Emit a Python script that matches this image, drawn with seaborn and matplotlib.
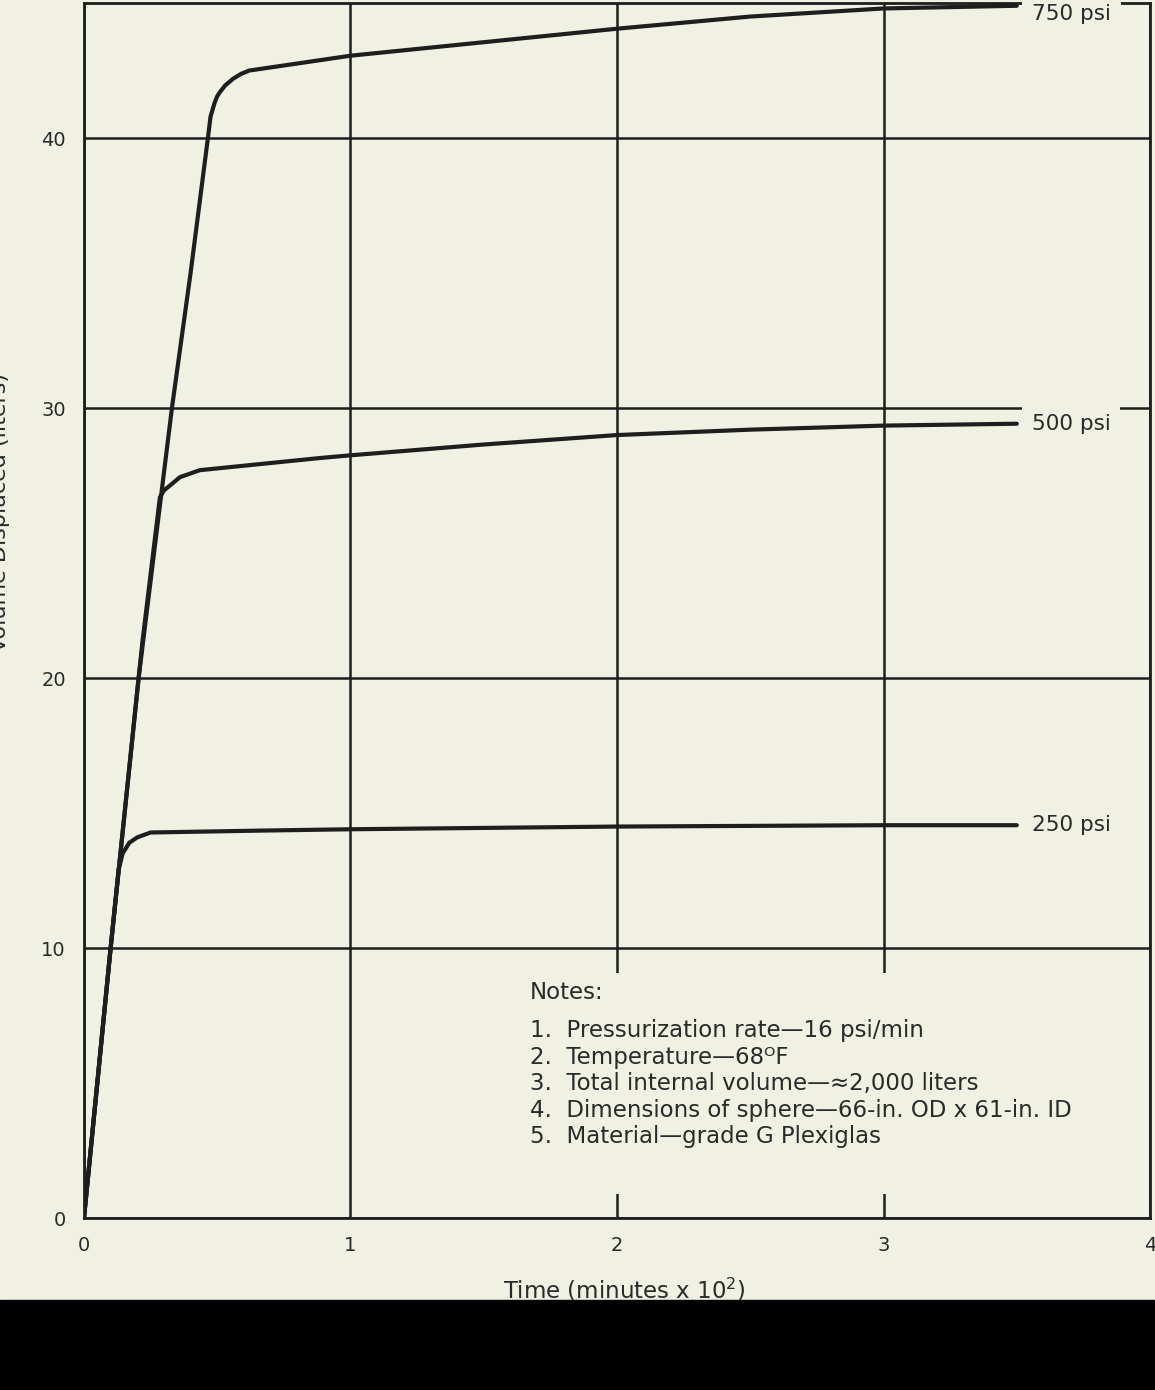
import matplotlib
matplotlib.use("Agg")
import matplotlib.pyplot as plt
import pandas as pd
import seaborn as sns
from matplotlib.patches import Rectangle

# curves: time in minutes x 10^2, volume in liters
t_750 = [0, 0.10, 0.205, 0.33, 0.40, 0.465, 0.475, 0.49, 0.50, 0.51, 0.53, 0.56, 0.59, 0.62, 1.0, 1.5, 2.0, 2.5, 3.0, 3.5]
v_750 = [0, 10, 20, 30, 35, 40, 40.8, 41.3, 41.55, 41.7, 41.95, 42.2, 42.38, 42.5, 43.05, 43.55, 44.05, 44.5, 44.8, 44.9]

t_500 = [0, 0.10, 0.205, 0.22, 0.285, 0.30, 0.325, 0.36, 0.435, 0.886, 1.0, 1.5, 2.0, 2.5, 3.0, 3.5]
v_500 = [0, 10, 20, 21.4, 26.7, 26.95, 27.15, 27.44, 27.7, 28.15, 28.25, 28.65, 29.0, 29.2, 29.35, 29.42]

t_250 = [0, 0.10, 0.13, 0.145, 0.17, 0.20, 0.25, 0.66, 1.0, 2.0, 3.0, 3.5]
v_250 = [0, 10, 12.9, 13.5, 13.9, 14.1, 14.28, 14.35, 14.4, 14.5, 14.55, 14.55]

pressures = ["750 psi", "500 psi", "250 psi"]

x_ticks = [0, 1, 2, 3, 4]
y_ticks = [0, 10, 20, 30, 40]

notes = [
    "1.  Pressurization rate\u201416 psi/min",
    "2.  Temperature\u201468\u1d3cF",
    "3.  Total internal volume\u2014\u22482,000 liters",
    "4.  Dimensions of sphere\u201466-in. OD x 61-in. ID",
    "5.  Material\u2014grade G Plexiglas",
]

bg = "#f0f1e3"
ink = "#1e1e1e"
txt = "#2a2a2a"
label_dy = {"750 psi": -6, "500 psi": 0, "250 psi": 0}  # nudge the top label off the frame

frames = []
for p, t, v in zip(pressures, [t_750, t_500, t_250], [v_750, v_500, v_250]):
    frames.append(pd.DataFrame({"Time": t, "Volume": v, "Pressure": p}))
df = pd.concat(frames, ignore_index=True)

sns.set_theme(style="white")
plt.rcParams["font.family"] = ["DejaVu Sans", "Noto Sans"]

fig = plt.figure(figsize=(11.55, 13.9), dpi=100, facecolor=bg)
ax = fig.add_axes([0.0727, 0.1237, 0.9230, 0.8741])
ax.set_facecolor(bg)

sns.lineplot(data=df, x="Time", y="Volume", hue="Pressure",
             palette={p: ink for p in pressures}, lw=3.0,
             estimator=None, sort=False, legend=False, ax=ax, zorder=3)

ax.set_xlim(0, 4)
ax.set_ylim(0, 45)
ax.set_xticks(x_ticks)
ax.set_yticks(y_ticks)
ax.grid(True, color=ink, lw=1.8)
ax.set_axisbelow(True)
for s in ax.spines.values():
    s.set_color(ink)
    s.set_linewidth(2.0)
ax.tick_params(length=0, labelsize=14, colors=txt, pad=13)

# curve labels at the end of each line
for p in pressures:
    sub = df[df["Pressure"] == p]
    ax.annotate(p, xy=(sub["Time"].iloc[-1], sub["Volume"].iloc[-1]),
                xytext=(11, label_dy[p]), textcoords="offset points", va="center",
                fontsize=15.5, color=txt, annotation_clip=False, zorder=6,
                bbox=dict(boxstyle="square,pad=0.45", fc=bg, ec="none"))

# notes block, its box hides the grid behind it
ax.text(0.418, 0.1638, "\n".join(notes), transform=ax.transAxes,
        va="top", ha="left", fontsize=16.5, linespacing=1.2, color=txt, zorder=6,
        bbox=dict(boxstyle="square,pad=2.0", fc=bg, ec="none"))
ax.text(0.418, 0.195, "Notes:", transform=ax.transAxes, va="top", ha="left",
        fontsize=16.5, color=txt, zorder=7)

ax.set_ylabel("Volume Displaced (liters)", fontsize=16, color=txt)
ax.yaxis.set_label_coords(-0.0694, 0.581)
ax.set_xlabel("Time (minutes x 10$^\\mathregular{2}$)", fontsize=16.5, color=txt)
ax.xaxis.set_label_coords(0.507, -0.048)

fig.patches.append(Rectangle((0, 0), 1, 90 / 1390, transform=fig.transFigure,
                             color="black", zorder=5))

plt.savefig("out.png", dpi=100, facecolor=bg)
